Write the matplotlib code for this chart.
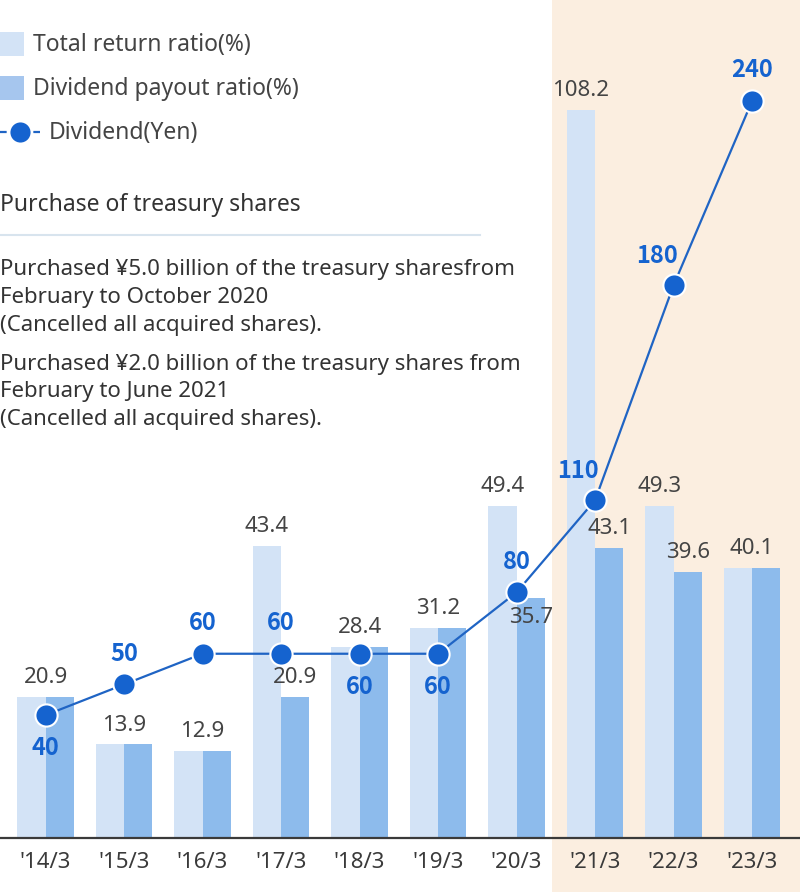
import matplotlib
matplotlib.use("Agg")
import matplotlib.pyplot as plt
from matplotlib.patches import Rectangle
from matplotlib.lines import Line2D

plt.rcParams['font.family'] = ['Noto Sans', 'Noto Sans CJK JP', 'DejaVu Sans']

# data
years = ["'14/3", "'15/3", "'16/3", "'17/3", "'18/3", "'19/3", "'20/3", "'21/3", "'22/3", "'23/3"]
total_return = [20.9, 13.9, 12.9, 43.4, 28.4, 31.2, 49.4, 108.2, 49.3, 40.1]
payout = [20.9, 13.9, 12.9, 20.9, 28.4, 31.2, 35.7, 43.1, 39.6, 40.1]
dividend = [40, 50, 60, 60, 60, 60, 80, 110, 180, 240]
div_label_pos = ['below', 'above', 'above', 'above', 'below', 'below', 'above', 'upleft', 'upleft', 'above']
payout_label_dy = [14, 14, 14, 14, 14, 14, -14, 14, 14, 14]

note_title = "Purchase of treasury shares"
notes = [
    ["Purchased ¥5.0 billion of the treasury sharesfrom",
     "February to October 2020",
     "(Cancelled all acquired shares)."],
    ["Purchased ¥2.0 billion of the treasury shares from",
     "February to June 2021",
     "(Cancelled all acquired shares)."],
]

LIGHT = '#d3e3f6'
MID = '#8dbbec'
LINE = '#1f64c4'
DOT = '#1563cf'
GRAY = '#444444'
BEIGE = '#fbeee0'
FS = 16

W, H = 800, 892
fig = plt.figure(figsize=(W / 100, H / 100), dpi=100)


def fx(px):
    return px / W


def fy(py):
    return 1 - py / H


base = 838
ax = fig.add_axes([0, fy(base), 1, base / H])
ax.set_facecolor('none')
ax2 = ax.twinx()

x = list(range(len(years)))
bw = 0.36
ax.set_xlim(-0.58, 9.61)
ax.set_ylim(0, base / 6.728)
ax2.set_ylim(0, base / 3.071)

# highlighted period
ax.axvspan(6.45, 9.61, ymin=-(H - base) / base, ymax=1, color=BEIGE, zorder=0, clip_on=False, lw=0)

ax.bar([i - bw / 2 for i in x], total_return, width=bw, color=LIGHT, zorder=2)
ax.bar([i + bw / 2 for i in x], payout, width=bw, color=MID, zorder=2)

for i, (t, p, dy) in enumerate(zip(total_return, payout, payout_label_dy)):
    if t == p:
        ax.annotate(f'{t:.1f}', (i, t), xytext=(0, 14), textcoords='offset points',
                    ha='center', va='center', fontsize=FS, color=GRAY)
    else:
        ax.annotate(f'{t:.1f}', (i - bw / 2, t), xytext=(0, 14), textcoords='offset points',
                    ha='center', va='center', fontsize=FS, color=GRAY)
        ax.annotate(f'{p:.1f}', (i + bw / 2, p), xytext=(0, dy), textcoords='offset points',
                    ha='center', va='center', fontsize=FS, color=GRAY, zorder=3)

ax2.plot(x, dividend, color=LINE, lw=1.6, marker='o', ms=16, mfc=DOT, mec='white', mew=1.5, zorder=5)
offsets = {'above': (0, 22), 'below': (0, -24), 'upleft': (-12, 21)}
for i, (d, pos) in enumerate(zip(dividend, div_label_pos)):
    ax2.annotate(str(d), (i, d), xytext=offsets[pos], textcoords='offset points',
                 ha='center', va='center', fontsize=17, color=DOT, fontweight='bold',
                 family=['Noto Sans CJK JP', 'DejaVu Sans'], zorder=6)

for a in (ax, ax2):
    for s in a.spines.values():
        s.set_visible(False)
    a.set_yticks([])
ax.axhline(0, color='#3a3a3a', lw=1.6, zorder=4, clip_on=False)
ax.set_xticks(x)
ax.set_xticklabels(years, fontsize=FS, color='#3a3a3a', fontweight='medium')
ax.tick_params(axis='x', length=0, pad=10)

# legend
fig.add_artist(Rectangle((fx(0), fy(56)), 24 / W, 24 / H, transform=fig.transFigure, color=LIGHT, lw=0))
fig.add_artist(Rectangle((fx(0), fy(100)), 24 / W, 24 / H, transform=fig.transFigure, color='#a6c6ee', lw=0))
fig.add_artist(Line2D([fx(0), fx(40)], [fy(132), fy(132)], transform=fig.transFigure, color=LINE,
                      lw=1.6, ls=(0, (3, 2))))
fig.add_artist(Line2D([fx(20)], [fy(132)], transform=fig.transFigure, marker='o', ms=16,
                      mfc=DOT, mec='white', mew=1.5))
fig.text(fx(33), fy(45), 'Total return ratio(%)', fontsize=16.5, color=GRAY, va='center')
fig.text(fx(33), fy(89), 'Dividend payout ratio(%)', fontsize=16.5, color=GRAY, va='center')
fig.text(fx(49), fy(133), 'Dividend(Yen)', fontsize=16.5, color=GRAY, va='center')

# note block
fig.text(fx(0), fy(205), note_title, fontsize=16.5, color='#333333', va='center')
fig.add_artist(Line2D([fx(0), fx(480)], [fy(235), fy(235)], transform=fig.transFigure,
                      color='#d8e4ee', lw=1.5))
for top, block in zip([269, 364], notes):
    for k, line in enumerate(block):
        fig.text(fx(0), fy(top + 28 * k), line, fontsize=16, color='#333333', va='center')

fig.savefig('out.png', dpi=100)
